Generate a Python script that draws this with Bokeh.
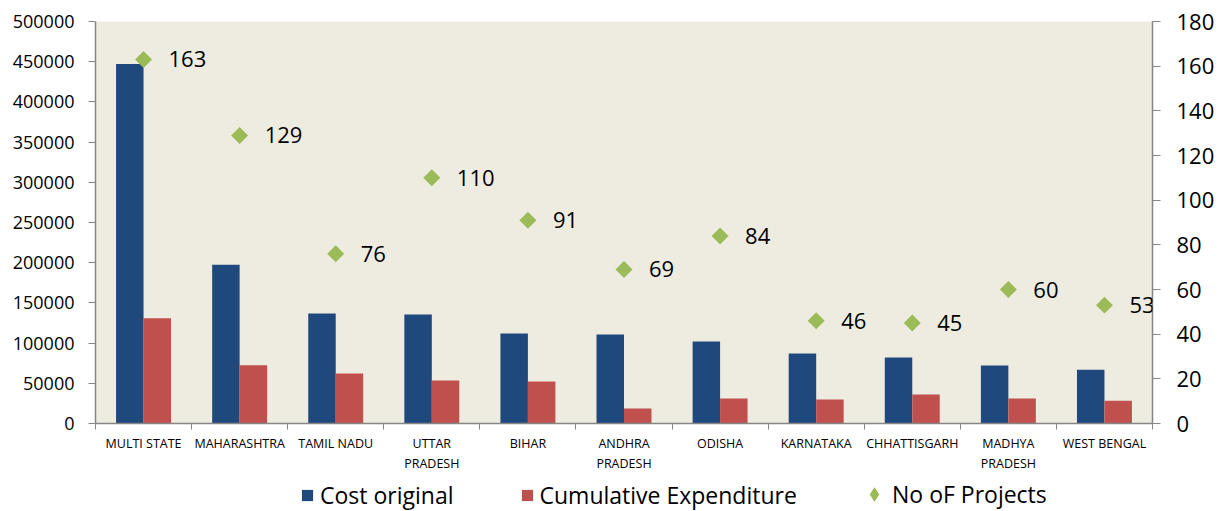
import math
from bokeh.plotting import figure
from bokeh.layouts import column
from bokeh.models import (Range1d, LinearAxis, FixedTicker, Legend, LegendItem,
                          LabelSet, ColumnDataSource, BasicTickFormatter)
from bokeh.core.properties import value
from bokeh.embed import file_html
from bokeh.resources import INLINE

states = ["MULTI STATE", "MAHARASHTRA", "TAMIL NADU", "UTTAR\nPRADESH", "BIHAR",
          "ANDHRA\nPRADESH", "ODISHA", "KARNATAKA", "CHHATTISGARH", "MADHYA\nPRADESH",
          "WEST BENGAL"]
cost_original = [447000, 197500, 136800, 135600, 112000, 110700, 102000, 87000, 82000, 72100, 66800]
cumulative_expenditure = [131000, 72500, 62200, 53500, 52200, 18700, 31100, 29900, 36000, 31100, 28200]
no_of_projects = [163, 129, 76, 110, 91, 69, 84, 46, 45, 60, 53]
left_ticks = list(range(0, 500001, 50000))
right_ticks = list(range(0, 181, 20))
series_names = ["Cost original", "Cumulative Expenditure", "No oF Projects"]

FONT = "Open Sans"
AXIS_GRAY = "#868686"
BLUE = "#1F497D"
RED = "#C0504D"
GREEN = "#9BBB59"

n = len(states)
centers = list(range(n))
bw = 0.286

src = ColumnDataSource(dict(
    xc=centers,
    xb=[c - bw / 2 for c in centers],
    xr=[c + bw / 2 for c in centers],
    cost=cost_original,
    cum=cumulative_expenditure,
    proj=no_of_projects,
    lbl=[str(v) for v in no_of_projects],
))

p = figure(frame_width=1057, frame_height=402,
           x_range=Range1d(-0.5, n - 0.5), y_range=Range1d(0, 500000),
           output_backend="svg", toolbar_location=None,
           min_border_left=95, min_border_right=70, min_border_top=21, min_border_bottom=46,
           background_fill_color="#EEECE1", border_fill_color="white",
           outline_line_color=None)
p.xgrid.visible = False
p.ygrid.visible = False
p.extra_y_ranges = {"right": Range1d(0, 180)}

# x axis: labels at category centres, ticks at category boundaries
xa = p.xaxis[0]
xa.ticker = FixedTicker(ticks=centers, minor_ticks=[c - 0.5 for c in range(n + 1)])
xa.major_label_overrides = {c: s for c, s in zip(centers, states)}
xa.major_tick_line_color = None
xa.minor_tick_line_color = AXIS_GRAY
xa.minor_tick_out = 6
xa.minor_tick_in = 0
xa.axis_line_color = AXIS_GRAY
xa.axis_line_width = 1.5
xa.major_label_text_font = FONT
xa.major_label_text_font_size = "12.5px"
xa.major_label_text_color = "#000000"
xa.major_label_standoff = 5

# left y axis
ya = p.yaxis[0]
ya.ticker = FixedTicker(ticks=left_ticks)
ya.formatter = BasicTickFormatter(use_scientific=False)
ya.axis_line_color = AXIS_GRAY
ya.axis_line_width = 1.5
ya.major_tick_line_color = AXIS_GRAY
ya.major_tick_out = 7
ya.major_tick_in = 0
ya.minor_tick_line_color = None
ya.major_label_text_font = FONT
ya.major_label_text_font_size = "18px"
ya.major_label_text_color = "#000000"
ya.major_label_standoff = 14

# right y axis
yr = LinearAxis(y_range_name="right", ticker=FixedTicker(ticks=right_ticks))
yr.axis_line_color = AXIS_GRAY
yr.axis_line_width = 1.5
yr.major_tick_line_color = AXIS_GRAY
yr.major_tick_out = 8
yr.major_tick_in = 0
yr.minor_tick_line_color = None
yr.major_label_text_font = FONT
yr.major_label_text_font_size = "22px"
yr.major_label_text_color = "#000000"
yr.major_label_standoff = 16
p.add_layout(yr, "right")

p.vbar(x="xb", top="cost", width=bw, source=src, fill_color=BLUE, line_color=None)
p.vbar(x="xr", top="cum", width=bw, source=src, fill_color=RED, line_color=None)
p.scatter(x="xc", y="proj", source=src, y_range_name="right", marker="square",
          angle=math.pi / 4, size=12, fill_color=GREEN, line_color=None)

labels = LabelSet(x="xc", y="proj", text="lbl", source=src, y_range_name="right",
                  x_offset=25, text_baseline="middle", text_align="left",
                  text_font=value(FONT), text_font_size=value("22px"),
                  text_color="#000000", level="overlay")
p.add_layout(labels)

# legend strip below the chart (dummy renderers sit outside the strip's visible range)
lf = figure(width=1057 + 95 + 70, height=37, x_range=Range1d(0, 1), y_range=Range1d(0, 1),
            output_backend="svg", toolbar_location=None, min_border=0,
            outline_line_color=None, background_fill_color="white", border_fill_color="white")
lf.axis.visible = False
lf.grid.visible = False
dummy = ColumnDataSource(dict(x=[-10], y=[-10]))
lb = lf.vbar(x="x", top="y", width=0.1, source=dummy, fill_color=BLUE, line_color=None)
lr = lf.vbar(x="x", top="y", width=0.1, source=dummy, fill_color=RED, line_color=None)
lg = lf.scatter(x="x", y="y", source=dummy, marker="diamond",
                fill_color=GREEN, line_color=None)

leg1 = Legend(items=[LegendItem(label=series_names[0], renderers=[lb]),
                     LegendItem(label=series_names[1], renderers=[lr])],
              location=(205, 0), orientation="horizontal",
              glyph_width=14, glyph_height=14, label_standoff=6, spacing=66,
              padding=0, margin=0, border_line_color=None, background_fill_alpha=0,
              label_text_font=FONT, label_text_font_size="23px", label_text_color="#000000")
leg2 = Legend(items=[LegendItem(label=series_names[2], renderers=[lg])],
              location=(761, -1), orientation="horizontal",
              glyph_width=36, glyph_height=36, label_standoff=0,
              padding=0, margin=0, border_line_color=None, background_fill_alpha=0,
              label_text_font=FONT, label_text_font_size="23px", label_text_color="#000000")
lf.add_layout(leg1, "center")
lf.add_layout(leg2, "center")

layout = column(p, lf, spacing=0)
open("out.html", "w").write(file_html(layout, INLINE))
